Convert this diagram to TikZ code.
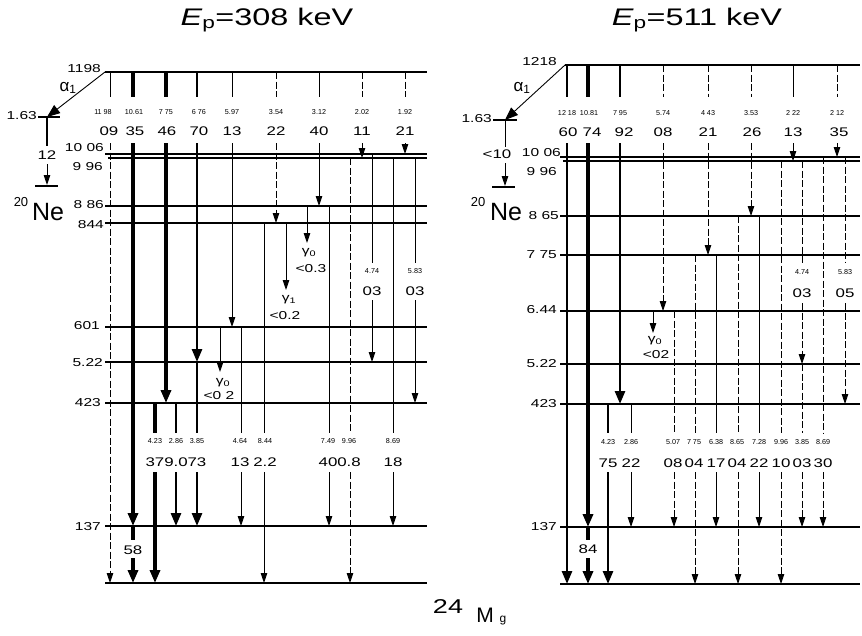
\documentclass[tikz,border=0pt]{standalone}
\usepackage{fontspec}
\setmainfont{Liberation Sans}
\newfontfamily\wf[FakeStretch=1.35]{Liberation Sans}
\usetikzlibrary{arrows.meta}
\tikzset{
  lev/.style={line width=1.1pt},
  tr/.style={line width=0.9pt},
  trd/.style={line width=0.9pt, dash pattern=on 7pt off 2.5pt},
  trA/.style={line width=4.8pt},
  trB/.style={line width=3.8pt},
  trC/.style={line width=2.7pt},
  arr/.style={-{Triangle[length=10pt,width=6.5pt]}},
  arrB/.style={-{Triangle[length=13pt,width=10pt]}},
  en/.style={font=\fontsize{7.2}{8}\selectfont, inner sep=0pt},
  lbl/.style={font=\wf\fontsize{12.5}{13}\selectfont, inner sep=0pt},
  ll/.style={font=\wf\fontsize{11.5}{13}\selectfont, inner sep=0pt, anchor=east},
  gam/.style={font=\wf\fontsize{11.5}{12}\selectfont, inner sep=0pt},
  alf/.style={font=\fontsize{17}{18}\selectfont, inner sep=0pt},
  ttl/.style={font=\wf\fontsize{24}{26}\selectfont, inner sep=0pt},
}
\begin{document}
\begin{tikzpicture}[x=1pt,y=-1pt]
\useasboundingbox (0,0) rectangle (862,635);
% titles
\node[ttl] (t1) at (267,20) {{\itshape E}\textsubscript{p}=308 keV};
\node[ttl] (t2) at (697,20) {{\itshape E}\textsubscript{p}=511 keV};
% ================= LEFT PANEL =================
% levels
\draw[lev] (105,72) -- (427,72);
\draw[lev] (105,154) -- (427,154);
\draw[lev] (108,158) -- (427,158);
\draw[lev] (105,206) -- (427,206);
\draw[lev] (105,223) -- (427,223);
\draw[lev] (105,327) -- (427,327);
\draw[lev] (105,362) -- (427,362);
\draw[lev] (105,403) -- (427,403);
\draw[lev] (105,526) -- (427,526);
\draw[lev] (105,583) -- (427,583);
% level labels
\node[ll] (lL1) at (101,69) {1198};
\node[ll] (lL2) at (104,148) {10 06};
\node[ll] (lL3) at (103,167) {9 96};
\node[ll] (lL4) at (104,205) {8 86};
\node[ll] (lL5) at (104,225) {844};
\node[ll] (lL6) at (100,326) {601};
\node[ll] (lL7) at (103,363) {5.22};
\node[ll] (lL8) at (101,403) {423};
\node[ll] (lL9) at (101,527) {137};
% alpha branch
\coordinate (la0) at (105,72);
\coordinate (la1) at (47,117);
\draw[tr,arrB] (la0) -- (la1);
\node[alf] (lal) at (68,88) {α\textsubscript{1}};
\draw[lev] (38,117) -- (60,117);
\node[ll] (l163) at (37,116) {1.63};
\draw[trC] (47,117) -- (47,146);
\node[lbl] (l12) at (47,155) {12};
\draw[tr,arr] (47,164) -- (47,185);
\draw[lev] (35,186) -- (58,186);
\node[font=\fontsize{13}{14}\selectfont, inner sep=0pt] (l20) at (21,202) {20};
\node[font=\fontsize{25}{26}\selectfont, inner sep=0pt] (lNe) at (48,212) {Ne};
% top segments
\foreach \x/\s in {110/tr,133/trA,166/trA,197/trC,232/tr,276/trd,319/tr,362/trd,405/trd}
  \draw[\s] (\x,72) -- (\x,97);
\foreach \x/\e in {103/11 98,134/10.61,166/7 75,199/6 76,232/5.97,276/3.54,319/3.12,362/2.02,405/1.92}
  \node[en] (le\x) at (\x,112) {\e};
\foreach \x/\i in {109/09,135/35,167/46,199/70,232/13,276/22,319/40,362/11,405/21}
  \node[lbl] (li\x) at (\x,131) {\i};
% primary lower segments
\draw[trd,arr] (110,143) -- (110,583);
\draw[trA,arrB] (133,143) -- (133,526);
\draw[trA] (133,526) -- (133,540);
\node[lbl] (l58) at (133,550) {58};
\draw[trA,arrB] (133,558) -- (133,583);
\draw[trA,arrB] (166,143) -- (166,403);
\draw[trC,arrB] (197,143) -- (197,362);
\draw[tr,arr] (232,143) -- (232,327);
\draw[trd,arr] (276,143) -- (276,223);
\draw[tr,arr] (319,143) -- (319,206);
\draw[trd,arr] (362,143) -- (362,158);
\draw[trd,arr] (405,143) -- (405,154);
% secondary
\draw[tr] (264,223) -- (264,433); \draw[tr,arr] (264,472) -- (264,583);
\draw[tr,arr] (286,223) -- (286,290);
\draw[tr,arr] (307,206) -- (307,243);
\draw[tr] (329,206) -- (329,433); \draw[tr,arr] (329,472) -- (329,526);
\draw[trd] (350,158) -- (350,433); \draw[trd,arr] (350,472) -- (350,583);
\draw[tr] (372,154) -- (372,263); \draw[tr,arr] (372,300) -- (372,362);
\draw[tr] (393,158) -- (393,433); \draw[tr,arr] (393,472) -- (393,526);
\draw[tr] (415,158) -- (415,263); \draw[tr,arr] (415,300) -- (415,403);
\draw[tr,arr] (220,327) -- (220,372);
\draw[tr] (241,327) -- (241,433); \draw[tr,arr] (241,472) -- (241,526);
\draw[trB] (155,403) -- (155,433); \draw[trB,arrB] (155,472) -- (155,583);
\draw[trC] (176,403) -- (176,433); \draw[trC,arrB] (176,472) -- (176,526);
\draw[trC] (197,362) -- (197,433); \draw[trC,arrB] (197,472) -- (197,526);
\foreach \x/\e/\i in {155/4.23/37,176/2.86/9.0,197/3.85/73,240/4.64/13,265/8.44/2.2,328/7.49/40,349/9.96/0.8,393/8.69/18}{
  \node[en] (lbe\x) at (\x,441) {\e};
  \node[lbl] (lbi\x) at (\x,462) {\i};
}
\node[en] (lm1) at (372,271) {4.74};
\node[lbl] (lm2) at (372,291) {03};
\node[en] (lm3) at (415,271) {5.83};
\node[lbl] (lm4) at (415,291) {03};
\node[gam] (lg1) at (309,253) {γ\textsubscript{0}};
\node[gam] (lg2) at (311,269) {<0.3};
\node[gam] (lg3) at (289,300) {γ\textsubscript{1}};
\node[gam] (lg4) at (285,316) {<0.2};
\node[gam] (lg5) at (223,383) {γ\textsubscript{0}};
\node[gam] (lg6) at (219,396) {<0 2};
% ================= RIGHT PANEL =================
\draw[lev] (565,65) -- (860,65);
\draw[lev] (560,157) -- (860,157);
\draw[lev] (563,161) -- (860,161);
\draw[lev] (560,216) -- (860,216);
\draw[lev] (560,255) -- (860,255);
\draw[lev] (560,311) -- (860,311);
\draw[lev] (560,364) -- (860,364);
\draw[lev] (560,404) -- (860,404);
\draw[lev] (560,527) -- (860,527);
\draw[lev] (560,584) -- (860,584);
\node[ll] (rL1) at (557,62) {1218};
\node[ll] (rL2) at (561,153) {10 06};
\node[ll] (rL3) at (557,172) {9 96};
\node[ll] (rL4) at (559,216) {8 65};
\node[ll] (rL5) at (557,255) {7 75};
\node[ll] (rL6) at (557,310) {6.44};
\node[ll] (rL7) at (557,364) {5.22};
\node[ll] (rL8) at (557,404) {423};
\node[ll] (rL9) at (557,527) {137};
\coordinate (ra0) at (565,65);
\coordinate (ra1) at (505,120);
\draw[tr,arrB] (ra0) -- (ra1);
\node[alf] (ral) at (522,88) {α\textsubscript{1}};
\draw[lev] (493,120) -- (517,120);
\node[ll] (r163) at (492,119) {1.63};
\draw[tr] (505,120) -- (505,147);
\node[lbl] (r10) at (497,154) {<10};
\draw[tr,arr] (505,163) -- (505,186);
\draw[lev] (492,187) -- (515,187);
\node[font=\fontsize{13}{14}\selectfont, inner sep=0pt] (r20) at (478,202) {20};
\node[font=\fontsize{25}{26}\selectfont, inner sep=0pt] (rNe) at (506,212) {Ne};
\foreach \x/\s in {567/trC,588/trA,620/trC,663/trd,708/trd,751/trd,793/tr,837/trd}
  \draw[\s] (\x,65) -- (\x,97);
\foreach \x/\e in {567/12 18,589/10.81,620/7 95,663/5.74,708/4 43,751/3.53,793/2 22,837/2 12}
  \node[en] (re\x) at (\x,113) {\e};
\foreach \x/\i in {568/60,592/74,624/92,663/08,708/21,752/26,793/13,839/35}
  \node[lbl] (ri\x) at (\x,132) {\i};
\draw[trC,arrB] (567,143) -- (567,584);
\draw[trA,arrB] (588,143) -- (588,527);
\draw[trA] (588,527) -- (588,540);
\node[lbl] (r84) at (588,549) {84};
\draw[trA,arrB] (588,558) -- (588,584);
\draw[trC,arrB] (620,143) -- (620,404);
\draw[trd,arr] (663,143) -- (663,311);
\draw[trd,arr] (708,143) -- (708,255);
\draw[trd,arr] (751,143) -- (751,216);
\draw[tr,arr] (793,143) -- (793,161);
\draw[trd,arr] (837,143) -- (837,157);
\draw[trC] (608,404) -- (608,433); \draw[trC,arrB] (608,472) -- (608,584);
\draw[tr] (631,404) -- (631,433); \draw[tr,arr] (631,472) -- (631,527);
\draw[tr,arr] (653,311) -- (653,333);
\draw[trd] (674,311) -- (674,433); \draw[trd,arr] (674,472) -- (674,527);
\draw[trd] (695,255) -- (695,433); \draw[trd,arr] (695,472) -- (695,584);
\draw[tr] (716,255) -- (716,433); \draw[tr,arr] (716,472) -- (716,527);
\draw[trd] (738,216) -- (738,433); \draw[trd,arr] (738,472) -- (738,584);
\draw[tr] (759,216) -- (759,433); \draw[tr,arr] (759,472) -- (759,527);
\draw[trd] (781,161) -- (781,433); \draw[trd,arr] (781,472) -- (781,584);
\draw[trd] (802,161) -- (802,263); \draw[trd,arr] (802,303) -- (802,364);
\draw[trd] (802,364) -- (802,433); \draw[trd,arr] (802,472) -- (802,527);
\draw[trd] (823,157) -- (823,433); \draw[trd,arr] (823,472) -- (823,527);
\draw[trd] (845,157) -- (845,263); \draw[trd,arr] (845,303) -- (845,404);
\foreach \x/\e/\i in {608/4.23/75,631/2.86/22,673/5.07/08,694/7 75/04,716/6.38/17,737/8.65/04,759/7.28/22,781/9.96/10,802/3.85/03,823/8.69/30}{
  \node[en] (rbe\x) at (\x,442) {\e};
  \node[lbl] (rbi\x) at (\x,463) {\i};
}
\node[en] (rm1) at (802,272) {4.74};
\node[lbl] (rm2) at (802,293) {03};
\node[en] (rm3) at (845,272) {5.83};
\node[lbl] (rm4) at (845,293) {05};
\node[gam] (rg1) at (655,341) {γ\textsubscript{0}};
\node[gam] (rg2) at (656,355) {<02};
% bottom label
\node[font=\wf\fontsize{20}{22}\selectfont, inner sep=0pt] (m24) at (448,607) {24};
\node[font=\fontsize{21}{22}\selectfont, inner sep=0pt] (mM) at (485,615) {M};
\node[font=\fontsize{12}{13}\selectfont, inner sep=0pt] (mg) at (503,621) {g};
\end{tikzpicture}
\end{document}
